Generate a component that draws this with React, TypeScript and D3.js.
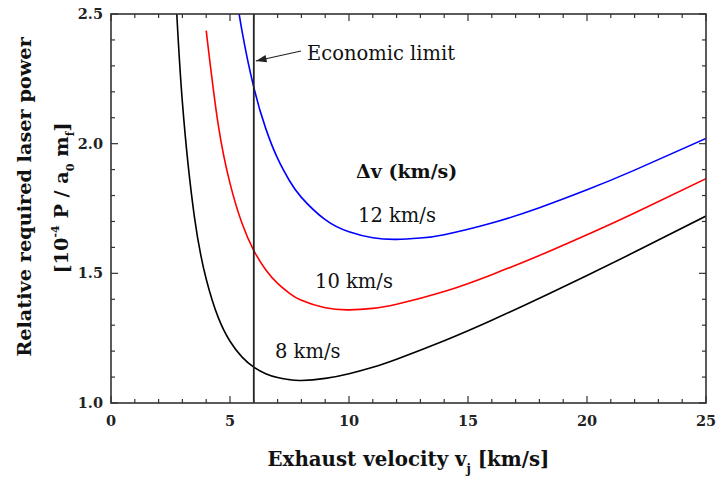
import React from "react"
import * as d3 from "d3"

// exhaust velocity (km/s) and relative power
const vBlack = [2.7, 3, 3.5, 4, 4.5, 5, 5.5, 6, 6.5, 7, 7.5, 8, 9, 10, 11, 12, 14, 16, 18, 20, 22, 25]
const pBlack = [2.612, 2.159, 1.721, 1.478, 1.331, 1.238, 1.178, 1.138, 1.113, 1.098, 1.090, 1.087, 1.095, 1.113, 1.138, 1.169, 1.240, 1.319, 1.404, 1.492, 1.582, 1.721]

const vRed = [4, 4.5, 5, 5.5, 6, 6.5, 7, 7.5, 8, 9, 10, 11, 12, 14, 16, 18, 20, 22, 25]
const pRed = [2.436, 2.076, 1.847, 1.694, 1.588, 1.514, 1.461, 1.423, 1.396, 1.367, 1.359, 1.365, 1.381, 1.430, 1.495, 1.569, 1.649, 1.733, 1.865]

const vBlue = [5.2, 5.5, 6, 6.5, 7, 7.5, 8, 9, 10, 11, 12, 13, 14, 16, 18, 20, 22, 25]
const pBlue = [2.614, 2.437, 2.217, 2.059, 1.943, 1.857, 1.793, 1.707, 1.660, 1.637, 1.631, 1.636, 1.649, 1.694, 1.753, 1.822, 1.898, 2.020]

const series = [
  { name: "8 km/s", v: vBlack, p: pBlack, color: "#000000" },
  { name: "10 km/s", v: vRed, p: pRed, color: "#ff0000" },
  { name: "12 km/s", v: vBlue, p: pBlue, color: "#0000ff" },
]

const xTicks = [0, 5, 10, 15, 20, 25]
const yTicks = [1.0, 1.5, 2.0, 2.5]
const economicLimit = 6

export default function App() {
  const W = 716, H = 477
  const left = 111, right = 706, top = 14, bottom = 403
  const font = "'DejaVu Serif', serif"

  const x = d3.scaleLinear().domain([0, 25]).range([left, right])
  const y = d3.scaleLinear().domain([1.0, 2.5]).range([bottom, top])

  const line = d3.line<[number, number]>()
    .x(d => x(d[0]))
    .y(d => y(d[1]))
    .curve(d3.curveNatural)

  const xMinor = d3.range(0, 26, 1)
  const yMinor = d3.range(10, 26, 1).map(d => d / 10)
  const axisColor = "#333"

  return (
    <svg width={W} height={H} style={{ position: "absolute", left: 0, top: 0, background: "#fff" }}>
      <defs>
        <clipPath id="plotclip">
          <rect x={left} y={top} width={right - left} height={bottom - top} />
        </clipPath>
        <marker id="arrow" viewBox="0 0 10 10" refX="10" refY="5" markerWidth="9" markerHeight="9" orient="auto">
          <path d="M0,1.5 L10,5 L0,8.5 z" fill="#222" />
        </marker>
      </defs>

      <g clipPath="url(#plotclip)">
        {series.map(s => (
          <path key={s.name} d={line(s.v.map((v, i) => [v, s.p[i]] as [number, number])) || ""}
            fill="none" stroke={s.color} strokeWidth={1.6} />
        ))}
      </g>

      {/* economic limit */}
      <line x1={x(economicLimit)} x2={x(economicLimit)} y1={top} y2={bottom} stroke="#222" strokeWidth={1.8} />
      <line x1={301} y1={51} x2={x(economicLimit) + 2} y2={61} stroke="#222" strokeWidth={1.2} markerEnd="url(#arrow)" />
      <text x={307} y={60} fontFamily={font} fontSize={19.5} fill="#111">Economic limit</text>

      {/* frame */}
      <rect x={left} y={top} width={right - left} height={bottom - top} fill="none" stroke={axisColor} strokeWidth={1.6} />

      {/* ticks */}
      {xMinor.map(t => {
        const len = t % 5 === 0 ? 7 : 4
        return (
          <g key={"xt" + t}>
            <line x1={x(t)} x2={x(t)} y1={bottom} y2={bottom - len} stroke={axisColor} strokeWidth={1.2} />
            <line x1={x(t)} x2={x(t)} y1={top} y2={top + len} stroke={axisColor} strokeWidth={1.2} />
          </g>
        )
      })}
      {yMinor.map(t => {
        const len = Math.round(t * 10) % 5 === 0 ? 7 : 4
        return (
          <g key={"yt" + t}>
            <line x1={left} x2={left + len} y1={y(t)} y2={y(t)} stroke={axisColor} strokeWidth={1.2} />
            <line x1={right} x2={right - len} y1={y(t)} y2={y(t)} stroke={axisColor} strokeWidth={1.2} />
          </g>
        )
      })}

      {/* tick labels */}
      {xTicks.map(t => (
        <text key={"xl" + t} x={x(t)} y={426} textAnchor="middle" fontFamily={font} fontSize={14.5} fontWeight="bold" fill="#222">{t}</text>
      ))}
      {yTicks.map(t => (
        <text key={"yl" + t} x={103} y={y(t) + 5} textAnchor="end" fontFamily={font} fontSize={14.5} fontWeight="bold" fill="#222">{t.toFixed(1)}</text>
      ))}

      {/* series labels */}
      <text x={356} y={178} fontFamily={font} fontSize={19} fontWeight="bold" fill="#111">Δv (km/s)</text>
      <text x={358} y={222} fontFamily={font} fontSize={19.5} fill="#111">12 km/s</text>
      <text x={315} y={288} fontFamily={font} fontSize={19.5} fill="#111">10 km/s</text>
      <text x={275} y={358} fontFamily={font} fontSize={19.5} fill="#111">8 km/s</text>

      {/* axis titles */}
      <text x={(left + right) / 2} y={466} textAnchor="middle" fontFamily={font} fontSize={19.8} fontWeight="bold" fill="#111">
        Exhaust velocity v<tspan fontSize={12} dy={7}>j</tspan><tspan dy={-7}> [km/s]</tspan>
      </text>
      <text transform={`translate(31,197) rotate(-90)`} textAnchor="middle" fontFamily={font} fontSize={19.3} fontWeight="bold" fill="#111">
        Relative required laser power
      </text>
      <text transform={`translate(68,198) rotate(-90)`} textAnchor="middle" fontFamily={font} fontSize={19.3} fontWeight="bold" fill="#111">
        [10<tspan fontSize={11} dy={-9}>-4</tspan><tspan dy={9}> P / a</tspan><tspan fontSize={11} dy={6}>0</tspan><tspan dy={-6}> m</tspan><tspan fontSize={11} dy={6}>f</tspan><tspan dy={-6}>]</tspan>
      </text>
    </svg>
  )
}
